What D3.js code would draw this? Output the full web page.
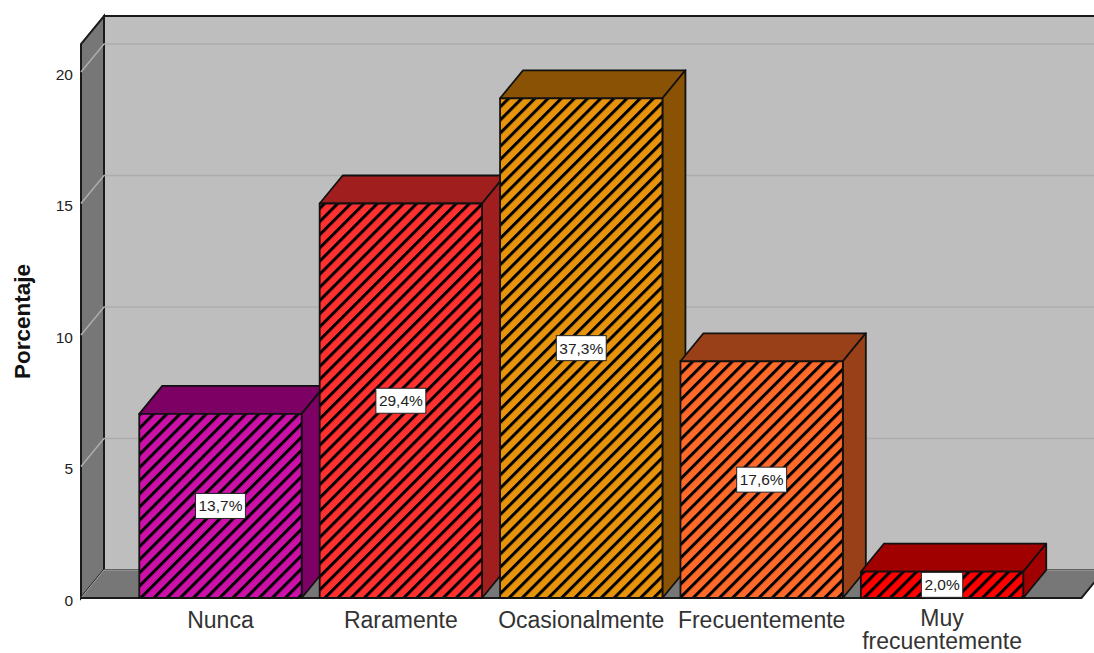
<!DOCTYPE html>
<html>
<head>
<meta charset="utf-8">
<script src="https://cdn.jsdelivr.net/npm/d3@7/dist/d3.min.js"></script>
<style>
html, body { margin: 0; padding: 0; background: #fff; }
svg { display: block; }
text { font-family: "Liberation Sans", Arial, sans-serif; fill: #222; }
</style>
</head>
<body>
<svg id="chart" width="1094" height="653"></svg>
<script>
// Survey responses: answer counts out of the full sample
const categories = ["Nunca", "Raramente", "Ocasionalmente", "Frecuentemente", "Muy frecuentemente"];
const counts = [7, 15, 19, 9, 1];
const sampleSize = 51;
const yTicks = [0, 5, 10, 15, 20];
const yTop = 21.06;
const frontColors = ["#cc10a8", "#ff3030", "#e8930c", "#ff6a2a", "#ff0000"];
const sideColors = ["#7d0064", "#a01e1e", "#8a5205", "#9a4018", "#a00000"];

const width = 1094, height = 653;
const plot = { left: 81, right: 1081.5, bottom: 598 };
const depth = { x: 23, y: -28 };

const svg = d3.select("#chart");

const x = d3.scaleBand().domain(categories).range([plot.left, plot.right])
  .paddingInner(0.1).paddingOuter(0.323);
const y = d3.scaleLinear().domain([0, 20]).range([plot.bottom, 72]);

const poly = pts => d3.line()(pts) + "Z";
const segment = pts => d3.line()(pts);

// Diagonal hatching, one pattern per bar colour
const defs = svg.append("defs");
frontColors.forEach((c, i) => {
  const p = defs.append("pattern").attr("id", "hatch" + i)
    .attr("patternUnits", "userSpaceOnUse").attr("width", 9.3).attr("height", 9.3)
    .attr("patternTransform", "rotate(45)");
  p.append("rect").attr("width", 9.3).attr("height", 9.3).attr("fill", c);
  p.append("rect").attr("width", 3).attr("height", 9.3).attr("fill", "#000");
});
defs.append("clipPath").attr("id", "frame").append("rect").attr("width", width).attr("height", height);

// Box walls: back, left side, floor
const walls = svg.append("g").attr("clip-path", "url(#frame)");
const x0 = plot.left, x1 = plot.right, yb = y(0), yt = y(yTop);
const dx = depth.x, dy = depth.y;
walls.append("path").attr("d", poly([[x0 + dx, yb + dy], [x1 + dx, yb + dy], [x1 + dx, yt + dy], [x0 + dx, yt + dy]]))
  .attr("fill", "#bebebe").attr("stroke", "#1a1a1a").attr("stroke-width", 2);
walls.append("path").attr("d", poly([[x0, yb], [x0 + dx, yb + dy], [x0 + dx, yt + dy], [x0, yt]]))
  .attr("fill", "#777").attr("stroke", "#1a1a1a").attr("stroke-width", 2);
walls.append("path").attr("d", poly([[x0, yb], [x1, yb], [x1 + dx, yb + dy], [x0 + dx, yb + dy]]))
  .attr("fill", "#777");

// Gridlines run along the side wall and across the back wall
yTicks.slice(1).forEach(t => {
  walls.append("path")
    .attr("d", segment([[x0, y(t)], [x0 + dx, y(t) + dy], [x1 + dx, y(t) + dy]]))
    .attr("fill", "none").attr("stroke", "#adadad").attr("stroke-width", 1.5);
});
walls.append("path").attr("d", segment([[x0, yb], [x0 + dx, yb + dy], [x1 + dx, yb + dy]]))
  .attr("fill", "none").attr("stroke", "#a8a8a8").attr("stroke-width", 1);
walls.append("path").attr("d", segment([[x0, yb], [x1, yb], [x1 + dx, yb + dy]]))
  .attr("fill", "none").attr("stroke", "#1a1a1a").attr("stroke-width", 2);

// Value axis
const axis = svg.append("g").attr("transform", `translate(${plot.left - 8},2.5)`)
  .call(d3.axisLeft(y).tickValues(yTicks).tickSize(0).tickPadding(0));
axis.select(".domain").remove();
axis.selectAll("text").attr("font-size", 15.5).attr("font-family", "Liberation Sans").attr("fill", "#222");

svg.append("text").attr("transform", "translate(30,321.5) rotate(-90)")
  .attr("text-anchor", "middle").attr("font-size", 22.5).attr("font-weight", "bold")
  .style("fill", "#111").text("Porcentaje");

// Bars as three faces: top, side, hatched front
const bars = svg.append("g").selectAll("g").data(categories).join("g");
bars.each(function (cat, i) {
  const g = d3.select(this);
  const l = x(cat), r = l + x.bandwidth(), t = y(counts[i]), b = y(0);
  const face = (pts, fill) => g.append("path").attr("d", poly(pts)).attr("fill", fill)
    .attr("stroke", "#111").attr("stroke-width", 1.8).attr("stroke-linejoin", "round");
  face([[l, t], [l + dx, t + dy], [r + dx, t + dy], [r, t]], sideColors[i]);
  face([[r, t], [r + dx, t + dy], [r + dx, b + dy], [r, b]], sideColors[i]);
  face([[l, t], [r, t], [r, b], [l, b]], `url(#hatch${i})`);
});

// Share-of-sample labels in white boxes at the middle of each front face
const shareText = v => (v / sampleSize * 100).toFixed(1).replace(".", ",") + "%";
const labels = svg.append("g").selectAll("g").data(categories).join("g")
  .attr("transform", (d, i) => `translate(${x(d) + x.bandwidth() / 2},${(y(counts[i]) + y(0)) / 2})`);
const boxes = labels.append("rect").attr("y", -12.5).attr("height", 25)
  .attr("fill", "#fff").attr("stroke", "#222").attr("stroke-width", 1);
const labelTexts = labels.append("text").attr("text-anchor", "middle").attr("y", 5.5).attr("font-size", 15.5)
  .text((d, i) => shareText(counts[i]));
boxes.each(function (d, i) {
  const w = labelTexts.nodes()[i].getComputedTextLength() + 6;
  d3.select(this).attr("x", -w / 2).attr("width", w);
});

// Category labels, the long final one wrapping onto two lines
const catLabels = svg.append("g").selectAll("text").data(categories).join("text")
  .attr("text-anchor", "middle").attr("font-size", 23).style("fill", "#333")
  .attr("y", d => d === "Muy frecuentemente" ? 626 : 628);
catLabels.each(function (d) {
  const sel = d3.select(this);
  const cx = x(d) + x.bandwidth() / 2;
  const words = d === "Muy frecuentemente" ? d.split(" ") : [d];
  words.forEach((w, k) => sel.append("tspan").attr("x", cx).attr("dy", k ? 22.5 : 0).text(w));
});
</script>
</body>
</html>
